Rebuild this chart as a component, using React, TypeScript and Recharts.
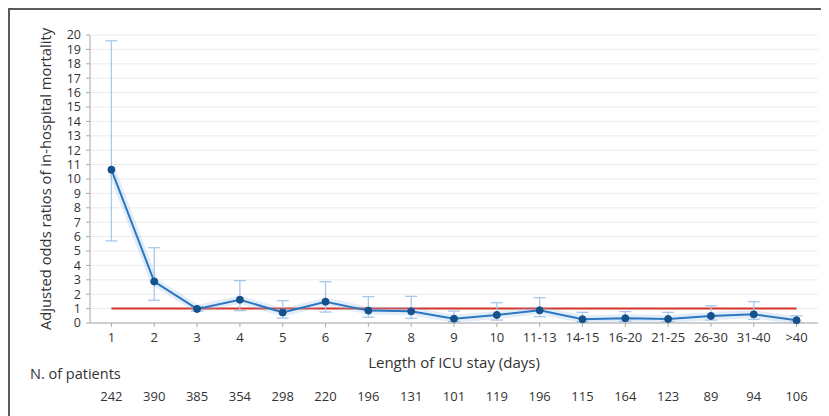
import { ComposedChart, Line, XAxis, YAxis, CartesianGrid, ErrorBar, ReferenceLine } from 'recharts';

const categories = ['1', '2', '3', '4', '5', '6', '7', '8', '9', '10', '11-13', '14-15', '16-20', '21-25', '26-30', '31-40', '>40'];
const oddsRatio = [10.65, 2.88, 0.98, 1.62, 0.73, 1.48, 0.86, 0.81, 0.3, 0.56, 0.88, 0.26, 0.33, 0.28, 0.49, 0.6, 0.19];
const ciLow = [5.7, 1.58, 0.82, 0.86, 0.34, 0.76, 0.4, 0.33, 0.1, 0.2, 0.44, 0.1, 0.12, 0.1, 0.2, 0.25, 0.06];
const ciHigh = [19.6, 5.23, 1.15, 2.94, 1.55, 2.87, 1.83, 1.85, 0.83, 1.41, 1.76, 0.74, 0.79, 0.74, 1.2, 1.48, 0.5];
const patients = [242, 390, 385, 354, 298, 220, 196, 131, 101, 119, 196, 115, 164, 123, 89, 94, 106];
const yTicks = [0, 1, 2, 3, 4, 5, 6, 7, 8, 9, 10, 11, 12, 13, 14, 15, 16, 17, 18, 19, 20];

const data = categories.map((cat, i) => ({
    cat,
    or: oddsRatio[i],
    err: [oddsRatio[i] - ciLow[i], ciHigh[i] - oddsRatio[i]],
    n: patients[i],
}));

const font = "'Open Sans', 'Noto Sans', sans-serif";
const textColor = '#333';
const axisColor = '#a8a8a8';

export default function App() {
    return (
        <div
            style={{
                position: 'relative',
                width: 821,
                height: 408,
                boxSizing: 'border-box',
                borderTop: '2px solid #5a5a5a',
                borderLeft: '2px solid #5a5a5a',
                fontFamily: font,
                overflow: 'hidden',
            }}
        >
            <style>{'body{overflow:hidden}'}</style>
            <ComposedChart
                width={819}
                height={406}
                data={data}
                margin={{ top: 25, right: 11, left: 20, bottom: 0 }}
            >
                <CartesianGrid horizontal vertical={false} stroke="#ececec" />
                <XAxis
                    dataKey="cat"
                    scale="band"
                    interval={0}
                    height={50}
                    tickSize={4}
                    tickMargin={6}
                    stroke={axisColor}
                    tick={{ fill: textColor, fontSize: 13, fontFamily: font }}
                    label={{
                        value: 'Length of ICU stay (days)',
                        position: 'insideBottom',
                        offset: 5,
                        fill: textColor,
                        fontSize: 15,
                        fontFamily: font,
                    }}
                />
                <XAxis
                    xAxisId="n"
                    dataKey="cat"
                    scale="band"
                    interval={0}
                    height={43}
                    axisLine={false}
                    tickLine={false}
                    tickSize={0}
                    tickMargin={19}
                    tickFormatter={(_v: string, i: number) => String(patients[i])}
                    tick={{ fill: textColor, fontSize: 13, fontFamily: font }}
                />
                <YAxis
                    width={60}
                    domain={[0, 20]}
                    ticks={yTicks}
                    interval={0}
                    tickSize={4}
                    tickMargin={5}
                    stroke={axisColor}
                    tick={{ fill: textColor, fontSize: 12.5, fontFamily: font }}
                    label={{
                        value: 'Adjusted odds ratios of in-hospital mortality',
                        angle: -90,
                        position: 'insideLeft',
                        offset: 16,
                        fill: textColor,
                        fontSize: 14.8,
                        fontFamily: font,
                        style: { textAnchor: 'middle' },
                    }}
                />
                <ReferenceLine
                    segment={[{ x: categories[0], y: 1 }, { x: categories[categories.length - 1], y: 1 }]}
                    stroke="#d4352b"
                    strokeWidth={2}
                />
                {/* error bars under the line */}
                <Line dataKey="or" stroke="none" dot={false} activeDot={false} isAnimationActive={false}>
                    <ErrorBar dataKey="err" width={6} stroke="#a9c7e8" strokeWidth={1.3} direction="y" />
                </Line>
                {/* soft glow */}
                <Line
                    dataKey="or"
                    stroke="#8bb8e4"
                    strokeOpacity={0.25}
                    strokeWidth={8}
                    dot={false}
                    activeDot={false}
                    isAnimationActive={false}
                />
                <Line
                    dataKey="or"
                    stroke="#2b78c2"
                    strokeWidth={2}
                    dot={{ r: 3.5, fill: '#15528c', stroke: '#15528c', strokeWidth: 1 }}
                    activeDot={false}
                    isAnimationActive={false}
                />
                {/* keeps the patients axis bound to the data */}
                <Line xAxisId="n" dataKey="or" stroke="none" dot={false} activeDot={false} isAnimationActive={false} />
            </ComposedChart>
            <div
                style={{
                    position: 'absolute',
                    left: 20,
                    top: 357,
                    fontSize: 14.5,
                    lineHeight: 1,
                    color: textColor,
                    whiteSpace: 'nowrap',
                }}
            >
                N. of patients
            </div>
        </div>
    );
}
